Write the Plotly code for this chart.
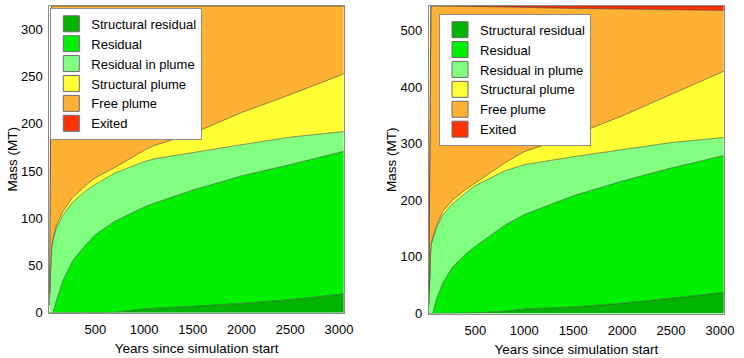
import plotly.graph_objects as go

# ---------------- data (masses in MT) ----------------
categories = ["Structural residual", "Residual", "Residual in plume",
              "Structural plume", "Free plume", "Exited"]
colors = ["#00b400", "#00f000", "#80ff80", "#ffff33", "#ffb133", "#ff3300"]

# Left panel
t_left = [27, 50, 65, 100, 165, 265, 400, 500, 700, 1000, 1100, 1500, 2000, 2500, 3050]
left_structural_residual = [0, 0, 0, 0, 0, 0, 0, 0, 0.5, 4, 5, 7, 10, 14, 20]
left_residual = [0, 0, 0, 13, 34, 55, 72, 83, 96.5, 108, 111, 123, 135, 143, 151]
left_residual_in_plume = [8, 68, 76, 77, 69, 62, 57, 53, 51, 48, 47, 40, 33, 29, 21]
left_structural_plume = [0, 2, 3, 3, 4, 5, 6, 7, 6, 12, 14, 20, 34, 45, 61]
left_free_plume = [12, 255, 246, 232, 218, 203, 190, 182, 171, 153, 148, 135, 113, 94, 72]
left_exited = [0] * 15

# Right panel
t_right = [24, 45, 64, 100, 164, 265, 400, 500, 800, 1000, 1500, 2000, 2500, 3040]
right_structural_residual = [0, 0, 0, 0, 0, 0, 0.5, 1, 4, 8, 11.5, 18, 27, 37]
right_residual = [0, 0, 0, 25, 53, 82, 104.5, 118, 152, 167, 196.5, 216, 230, 242]
right_residual_in_plume = [15, 120, 131, 125, 121, 112, 108, 107, 96, 88, 69, 56, 45, 32]
right_structural_plume = [0, 2, 3, 4, 6, 6, 6, 5, 14, 23, 38, 59, 85, 117]
right_free_plume = [25, 421.5, 409.5, 389.5, 363.5, 343.5, 324, 311.5, 275.5, 254.5, 224, 189, 150, 107.5]
right_exited = [0, 0, 0, 0, 0, 0, 0.5, 1, 2, 3, 4.5, 5.5, 6.5, 8]

x_ticks = [500, 1000, 1500, 2000, 2500, 3000]
y_ticks_left = [0, 50, 100, 150, 200, 250, 300]
y_ticks_right = [0, 100, 200, 300, 400, 500]

left_series = [left_structural_residual, left_residual, left_residual_in_plume,
               left_structural_plume, left_free_plume, left_exited]
right_series = [right_structural_residual, right_residual, right_residual_in_plume,
                right_structural_plume, right_free_plume, right_exited]

FONT = "Liberation Sans, Arial, Helvetica, sans-serif"
EDGE = "rgba(50,50,50,0.75)"
FRAME = "#8c8c8c"

fig = go.Figure()

panels = [("x", "y", "legend", t_left, left_series, "L"),
          ("x2", "y2", "legend2", t_right, right_series, "R")]
for xa, ya, lg, tt, series, grp in panels:
    for name, col, vals in zip(categories, colors, series):
        fig.add_trace(go.Scatter(
            x=tt, y=vals, name=name, xaxis=xa, yaxis=ya,
            stackgroup=grp, mode="lines", fillcolor=col,
            line=dict(color=EDGE, width=0.7), showlegend=False,
            hoverinfo="skip"))
    for i, (name, col) in enumerate(zip(categories, colors)):
        fig.add_trace(go.Scatter(
            x=[None], y=[None], name=name, xaxis=xa, yaxis=ya,
            mode="markers", legend=lg, showlegend=True,
            legendgroup=f"{grp}{i}",
            marker=dict(symbol="square", size=17, color=col,
                        line=dict(color="#6e6e6e", width=1))))

axis_common = dict(showline=True, linecolor=FRAME, linewidth=1, mirror=True,
                   showgrid=False, zeroline=False, ticks="",
                   tickfont=dict(family=FONT, size=13, color="black"))

legend_common = dict(xanchor="left", yanchor="top", bgcolor="white",
                     bordercolor=FRAME, borderwidth=1, traceorder="normal",
                     font=dict(family=FONT, size=13, color="black"),
                     tracegroupgap=1, itemclick=False, itemdoubleclick=False)

fig.update_layout(
    width=744, height=358,
    margin=dict(l=0, r=0, t=0, b=0),
    paper_bgcolor="white", plot_bgcolor="white",
    font=dict(family=FONT, size=13, color="black"),
    xaxis=dict(domain=[50 / 744, 348.5 / 744], range=[27, 3050], tickvals=x_ticks,
               anchor="y", ticklabelstandoff=5,
               title=dict(text="Years since simulation start", standoff=7,
                          font=dict(size=13.5)), **axis_common),
    yaxis=dict(domain=[1 - 320 / 358, 1 - 6 / 358], range=[0, 325], tickvals=y_ticks_left,
               anchor="x", ticklabelstandoff=3,
               title=dict(text="Mass (MT)", standoff=0, font=dict(size=13.5)), **axis_common),
    xaxis2=dict(domain=[434.7 / 744, 733.7 / 744], range=[24, 3040], tickvals=x_ticks,
                anchor="y2", ticklabelstandoff=5,
                title=dict(text="Years since simulation start", standoff=7,
                           font=dict(size=13.5)), **axis_common),
    yaxis2=dict(domain=[1 - 320.7 / 358, 1 - 6 / 358], range=[0, 543.5], tickvals=y_ticks_right,
                anchor="x2", ticklabelstandoff=3,
                title=dict(text="Mass (MT)", standoff=0, font=dict(size=13.5)), **axis_common),
    legend=dict(x=51 / 744, y=1 - 8 / 358, **legend_common),
    legend2=dict(x=445 / 744, y=1 - 14 / 358, **legend_common),
)

fig.write_html("out.html")
